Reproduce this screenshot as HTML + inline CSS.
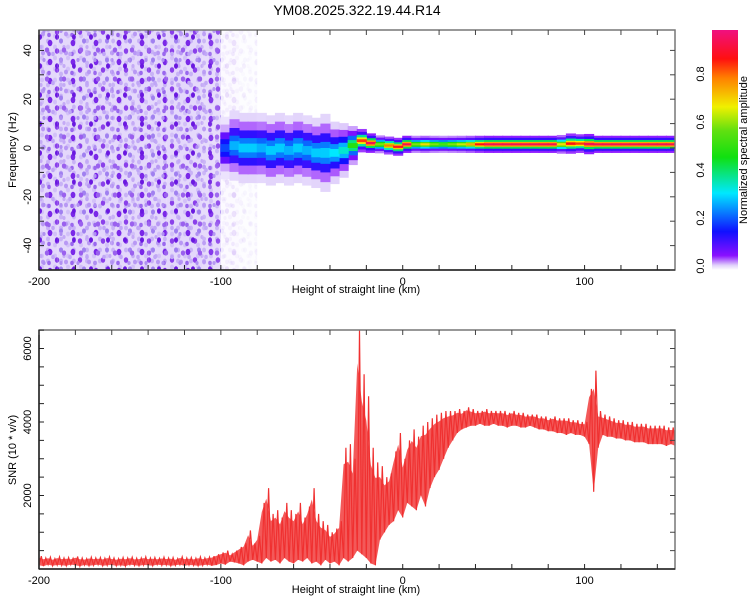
<!DOCTYPE html>
<html><head><meta charset="utf-8"><style>
body{margin:0;background:#fff;}
svg{display:block;font-family:"Liberation Sans",sans-serif;}
</style></head><body>
<svg id="c" width="750" height="600" viewBox="0 0 750 600">
<defs>
<pattern id="sp1" width="23" height="19" patternUnits="userSpaceOnUse">
<ellipse cx="4" cy="5" rx="2.4" ry="3.2" fill="#7a28e8"/><ellipse cx="15" cy="3" rx="2" ry="2.6" fill="#a080f0"/>
<ellipse cx="11" cy="13" rx="2.2" ry="2.8" fill="#8a40ea"/><ellipse cx="20" cy="15" rx="2" ry="2.4" fill="#b898f4"/>
<ellipse cx="3" cy="16" rx="1.8" ry="2.2" fill="#9a68ee"/><ellipse cx="18" cy="9" rx="1.6" ry="2" fill="#c4aaf6"/>
</pattern>
<pattern id="sp2" width="17" height="29" patternUnits="userSpaceOnUse">
<ellipse cx="6" cy="8" rx="2" ry="2.8" fill="#6a18e0"/><ellipse cx="13" cy="21" rx="2.2" ry="2.6" fill="#9a60ee"/>
<ellipse cx="2" cy="25" rx="1.8" ry="2.2" fill="#c0a6f6"/><ellipse cx="10" cy="2" rx="1.6" ry="2" fill="#b090f2"/>
</pattern>
<pattern id="sp3" width="13" height="11" patternUnits="userSpaceOnUse">
<ellipse cx="3" cy="3" rx="2" ry="2.4" fill="#d2c0f8"/><ellipse cx="9" cy="8" rx="2" ry="2.4" fill="#c8b2f6"/>
</pattern>
<linearGradient id="cbg" x1="0" y1="1" x2="0" y2="0">
<stop offset="0" stop-color="#ffffff"/><stop offset="0.02" stop-color="#e0d0fb"/><stop offset="0.06" stop-color="#8a10ff"/>
<stop offset="0.16" stop-color="#1010ff"/><stop offset="0.32" stop-color="#00e8ff"/><stop offset="0.47" stop-color="#10e010"/>
<stop offset="0.58" stop-color="#60e010"/><stop offset="0.68" stop-color="#f0f000"/><stop offset="0.8" stop-color="#ff8000"/>
<stop offset="0.88" stop-color="#ff1010"/><stop offset="1" stop-color="#f01080"/>
</linearGradient>
<clipPath id="clipTop"><rect x="39" y="30" width="636" height="240"/></clipPath>
<clipPath id="clipBot"><rect x="39" y="330" width="636" height="239"/></clipPath>
</defs>
<text x="357" y="15" font-size="14" text-anchor="middle">YM08.2025.322.19.44.R14</text>
<g id="topG" clip-path="url(#clipTop)"></g>
<g id="botG" clip-path="url(#clipBot)"></g>
<g id="axesG"></g>
<rect x="712" y="30" width="26" height="240" fill="url(#cbg)"/>
<g font-size="11">
<text transform="translate(704,266) rotate(-90)" text-anchor="middle">0.0</text>
<text transform="translate(704,218) rotate(-90)" text-anchor="middle">0.2</text>
<text transform="translate(704,170) rotate(-90)" text-anchor="middle">0.4</text>
<text transform="translate(704,122) rotate(-90)" text-anchor="middle">0.6</text>
<text transform="translate(704,74) rotate(-90)" text-anchor="middle">0.8</text>
</g>
<text transform="translate(747,150) rotate(-90)" font-size="11" text-anchor="middle">Normalized spectral amplitude</text>
<text transform="translate(16,150) rotate(-90)" font-size="11" text-anchor="middle">Frequency (Hz)</text>
<text x="356" y="293" font-size="11" text-anchor="middle">Height of straight line (km)</text>
<text transform="translate(16,450) rotate(-90)" font-size="11" text-anchor="middle">SNR (10 * v/v)</text>
<text x="356" y="593" font-size="11" text-anchor="middle">Height of straight line (km)</text>
</svg>
<script>
// ---- data ----
const noiseKm = [-200,-190,-180,-170,-160,-150,-140,-130,-120,-110,-100,-90];
const noiseAmp = [1,1,1,1,1,1,1,1,1,0.9,0.12,0.06];
const bandKm = [-100,-95,-90,-85,-80,-75,-70,-65,-60,-55,-50,-45,-40,-35,-30,-25,-20,-15,-10,-5,0,5,10,15,20,25,30,35,40,45,50,55,60,65,70,75,80,85,90,95,100,105,110,115,120,125,130,135,140,145,150];
const bandCenter = [0,1,0,0,0,-1,0,-1,0,-1,-2,-2,-2,-1,1,3,2,1.5,1,0.5,1.5,1.5,1.5,1.5,1.5,1.5,1.5,1.5,1.5,1.5,1.5,1.5,1.5,1.5,1.5,1.5,1.5,1.5,1.8,1.8,1.6,1.5,1.5,1.5,1.5,1.5,1.5,1.5,1.5,1.5,1.5];
const bandHalf = [8,9,9,9,9,9,9,9,9,9,9,10,8,7,5,3,2.5,2.3,2.3,2.3,2.2,2.2,2.2,2.2,2.2,2.2,2.2,2.2,2.2,2.2,2.2,2.2,2.2,2.2,2.2,2.2,2.2,2.4,2.6,2.4,2.6,2.2,2.2,2.2,2.2,2.2,2.2,2.2,2.2,2.2,2.2];
const bandAmp = [0.2,0.28,0.3,0.3,0.28,0.3,0.3,0.28,0.3,0.28,0.3,0.3,0.32,0.35,0.5,0.85,0.95,0.6,0.8,0.9,0.95,0.6,0.7,0.6,0.55,0.6,0.65,0.75,0.88,0.95,0.95,0.95,0.95,0.95,0.95,0.95,0.95,0.7,0.88,0.85,0.95,0.95,0.95,0.95,0.95,0.95,0.95,0.95,0.95,0.95,0.95];
const snrStart = -200, snrStep = 2.5;
const snrLow = [100,80,120,90,110,100,90,120,100,80,110,90,100,120,90,100,110,90,100,80,120,100,90,110,100,90,120,100,110,90,100,120,90,110,100,90,100,120,90,110,
 150,120,200,180,150,100,200,250,200,150,300,200,250,150,300,200,150,250,200,300,150,200,100,250,150,200,100,300,200,300,
 500,400,300,150,100,800,1000,1200,1300,1600,1400,1800,1700,1600,2000,1700,2200,2500,2700,3000,3300,3500,3700,3800,3850,3900,3900,3950,3900,3900,3950,3900,3900,3850,3900,3900,3850,3850,3900,3850,
 3800,3800,3750,3750,3700,3700,3650,3700,3650,3650,3600,3400,2100,3300,3650,3600,3600,3550,3550,3500,3500,3450,3450,3450,3400,3400,3400,3400,3350,3400,3350];
const snrHigh = [350,300,320,280,330,300,310,290,340,300,280,320,300,310,290,330,300,280,310,300,320,290,300,330,300,310,290,320,300,310,280,330,300,310,290,330,300,320,350,400,
 450,500,400,500,600,700,1050,700,900,1800,2200,1500,1600,1400,1800,1600,1500,1800,1400,1700,2200,1500,1300,1200,1000,1100,1300,3300,3400,3000,
 6500,5300,4700,3300,2900,2800,2500,2600,3200,3700,3000,3500,3800,3600,3900,4000,4100,4200,4250,4300,4300,4300,4350,4300,4400,4350,4300,4300,4350,4300,4300,4300,4300,4250,4300,4250,4250,4200,4200,4200,
 4150,4150,4100,4150,4100,4100,4100,4050,4050,4000,4000,4900,5400,4300,4200,4150,4100,4050,4050,4000,4000,3950,3950,3950,3900,3900,3900,3900,3850,3850,3850];
const xTicks = [-200,-100,0,100];
const fTicks = [-40,-20,0,20,40];
const snrTicks = [2000,4000,6000];
// ---- scales ----
const NS = "http://www.w3.org/2000/svg";
const xS = km => 39 + (km + 200) * 1.8186;
const yF = f => 148 - f * 2.44;
const yS = v => 569 - v * 0.03675;
function cmap(a){
  const st=[[0,[255,255,255]],[0.02,[224,208,251]],[0.06,[138,16,255]],[0.16,[16,16,255]],[0.32,[0,232,255]],[0.47,[16,224,16]],[0.58,[96,224,16]],[0.68,[240,240,0]],[0.8,[255,128,0]],[0.88,[255,16,16]],[1,[240,16,128]]];
  a=Math.max(0,Math.min(1,a));
  for(let i=1;i<st.length;i++){ if(a<=st[i][0]){const t=(a-st[i-1][0])/(st[i][0]-st[i-1][0]);const c=st[i-1][1].map((v,k)=>Math.round(v+(st[i][1][k]-v)*t));return `rgb(${c.join(',')})`;}}
  return 'rgb(240,16,128)';
}
function mk(tag, attrs, parent){const e=document.createElementNS(NS,tag);for(const k in attrs)e.setAttribute(k,attrs[k]);parent.appendChild(e);return e;}
const topG = document.getElementById('topG');
// noise speckle
noiseKm.forEach((km,i)=>{
  const x0=xS(km), w=xS(km+10)-x0;
  const r1=mk('rect',{x:x0,y:30,width:w,height:240,fill:'#e4d8fb',opacity:noiseAmp[i]},topG);
  
  
  ['url(#sp3)','url(#sp1)','url(#sp2)'].forEach(p=>{
    const r=mk('rect',{x:x0,y:30,width:w,height:240,fill:p,opacity:noiseAmp[i]},topG);
    
    
  });
});
// signal band
const layers=[[1.6,0.06],[1.2,0.14],[0.8,0.45],[0.45,0.8],[0.2,1.0]];
layers.forEach(([hf,af])=>{
  bandKm.forEach((km,i)=>{
    const x0=xS(km)-0.5, w=xS(km+5)-xS(km)+1;
    const h=bandHalf[i]*hf;
    const r=mk('rect',{x:x0,y:yF(bandCenter[i]+h),width:w,height:Math.max(1,yF(bandCenter[i]-h)-yF(bandCenter[i]+h)),fill:cmap(bandAmp[i]*af)},topG);
    
    
  });
});
// SNR envelope + line
const botG=document.getElementById('botG');
let up=[],dn=[],pts=[];
snrLow.forEach((v,i)=>{const km=snrStart+i*snrStep;
  up.push(xS(km).toFixed(1)+','+yS(snrHigh[i]*0.85+v*0.15).toFixed(1));
  dn.unshift(xS(km).toFixed(1)+','+yS(v).toFixed(1));
  pts.push(xS(km).toFixed(1)+','+yS(v).toFixed(1));
  pts.push(xS(km+snrStep*0.5).toFixed(1)+','+yS(snrHigh[i]).toFixed(1));
});
const env=mk('polygon',{points:up.concat(dn).join(' '),fill:'#f03030',opacity:0.8},botG);


const pl=mk('polyline',{points:pts.join(' '),fill:'none',stroke:'#f03030','stroke-width':1.2},botG);


// axes
const axG=document.getElementById('axesG');
function frame(y0,y1,nm){
  const f=mk('rect',{x:39,y:y0,width:636,height:y1-y0,fill:'none',stroke:'#777','stroke-width':1.5},axG);
  
  
  mk('line',{x1:39,y1:y0,x2:39,y2:y1,stroke:'#222','stroke-width':1.5},axG);
  mk('line',{x1:39,y1:y1,x2:675,y2:y1,stroke:'#222','stroke-width':1.5},axG);
  for(let km=-200;km<=150;km+=20){const x=xS(km);mk('line',{x1:x,y1:y1,x2:x,y2:y1-5,stroke:'#222'},axG);mk('line',{x1:x,y1:y0,x2:x,y2:y0+5,stroke:'#444'},axG);}
  xTicks.forEach(km=>{const t=mk('text',{x:xS(km),y:y1+15,'font-size':11,'text-anchor':'middle'},axG);t.textContent=km;
    
    });
}
frame(30,270,'top-plot-frame');
frame(330,569,'bottom-plot-frame');
for(let f=-50;f<=48;f+=10){const y=yF(f);mk('line',{x1:39,y1:y,x2:44,y2:y,stroke:'#222'},axG);mk('line',{x1:675,y1:y,x2:670,y2:y,stroke:'#444'},axG);}
fTicks.forEach(f=>{const t=mk('text',{transform:`translate(31,${yF(f)}) rotate(-90)`,'font-size':11,'text-anchor':'middle'},axG);t.textContent=f;
  
  });
for(let v=500;v<=6500;v+=500){const y=yS(v);mk('line',{x1:39,y1:y,x2:44,y2:y,stroke:'#222'},axG);mk('line',{x1:675,y1:y,x2:670,y2:y,stroke:'#444'},axG);}
snrTicks.forEach(v=>{const t=mk('text',{transform:`translate(31,${yS(v)}) rotate(-90)`,'font-size':11,'text-anchor':'middle'},axG);t.textContent=v;
  
  });
</script>
</body></html>
